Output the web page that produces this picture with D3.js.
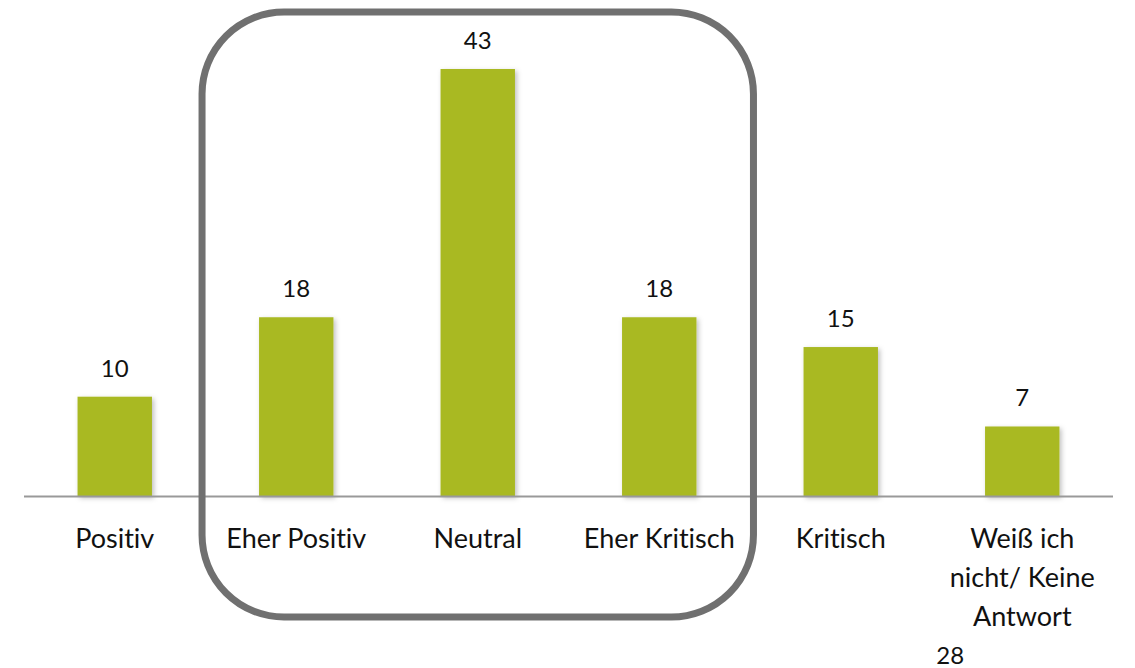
<!DOCTYPE html>
<html>
<head>
<meta charset="utf-8">
<script src="https://cdn.jsdelivr.net/npm/d3@7"></script>
<style>
  html, body { margin: 0; padding: 0; background: #fff; }
  svg { display: block; }
  text { font-family: Lato, "Open Sans", sans-serif; fill: #111; font-variant-ligatures: none; }
</style>
</head>
<body>
<div id="chart"></div>
<script>
const categories = ["Positiv", "Eher Positiv", "Neutral", "Eher Kritisch", "Kritisch", "Weiß ich nicht/ Keine Antwort"];
const categoryLines = [["Positiv"], ["Eher Positiv"], ["Neutral"], ["Eher Kritisch"], ["Kritisch"], ["Weiß ich", "nicht/ Keine", "Antwort"]];
const values = [10, 18, 43, 18, 15, 7];
const highlighted = ["Eher Positiv", "Neutral", "Eher Kritisch"];
const strayLabel = "28";

const W = 1135, H = 668;
const svg = d3.select("#chart").append("svg").attr("width", W).attr("height", H);

const defs = svg.append("defs");
const f = defs.append("filter").attr("id", "shadow").attr("x", "-20%").attr("y", "-20%").attr("width", "150%").attr("height", "150%");
f.append("feDropShadow").attr("dx", 2).attr("dy", 2).attr("stdDeviation", 2.5).attr("flood-color", "#000").attr("flood-opacity", 0.25);

const x = d3.scaleBand().domain(categories).range([24, 1113]).paddingInner(0.59).paddingOuter(0.295);
const y = d3.scaleLinear().domain([0, 43]).range([496, 69]);

// bars
svg.append("g").selectAll("rect").data(values).join("rect")
  .attr("x", (d, i) => x(categories[i]))
  .attr("y", d => y(d))
  .attr("width", x.bandwidth())
  .attr("height", d => y(0) - y(d))
  .attr("fill", "#a9b922")
  .attr("filter", "url(#shadow)");

// axis baseline
svg.append("line")
  .attr("x1", 24).attr("x2", 1113)
  .attr("y1", y(0) + 0.5).attr("y2", y(0) + 0.5)
  .attr("stroke", "#999").attr("stroke-width", 2);

// value labels
svg.append("g").selectAll("text").data(values).join("text")
  .attr("x", (d, i) => x(categories[i]) + x.bandwidth() / 2)
  .attr("y", d => y(d) - 20)
  .attr("text-anchor", "middle")
  .attr("font-size", 24)
  .text(d => d);

// category labels
const cl = svg.append("g").selectAll("text").data(categories).join("text")
  .attr("x", d => x(d) + x.bandwidth() / 2)
  .attr("y", 548)
  .attr("text-anchor", "middle")
  .attr("font-size", 27);
cl.each(function(d, i) {
  const t = d3.select(this);
  categoryLines[i].forEach((line, j) => {
    t.append("tspan").attr("x", x(d) + x.bandwidth() / 2).attr("dy", j === 0 ? 0 : 39).text(line);
  });
});

// highlight rounded rectangle
const hx0 = x(highlighted[0]) - 57;
const hx1 = x(highlighted[highlighted.length - 1]) + x.bandwidth() + 57;
svg.append("rect")
  .attr("x", hx0).attr("y", 12)
  .attr("width", hx1 - hx0).attr("height", 605)
  .attr("rx", 82).attr("ry", 82)
  .attr("fill", "none").attr("stroke", "#707070").attr("stroke-width", 7);

// stray label
svg.append("text")
  .attr("x", x(categories[5]) + x.bandwidth() / 2 - 72)
  .attr("y", 664)
  .attr("text-anchor", "middle")
  .attr("font-size", 24)
  .text(strayLabel);
</script>
</body>
</html>
